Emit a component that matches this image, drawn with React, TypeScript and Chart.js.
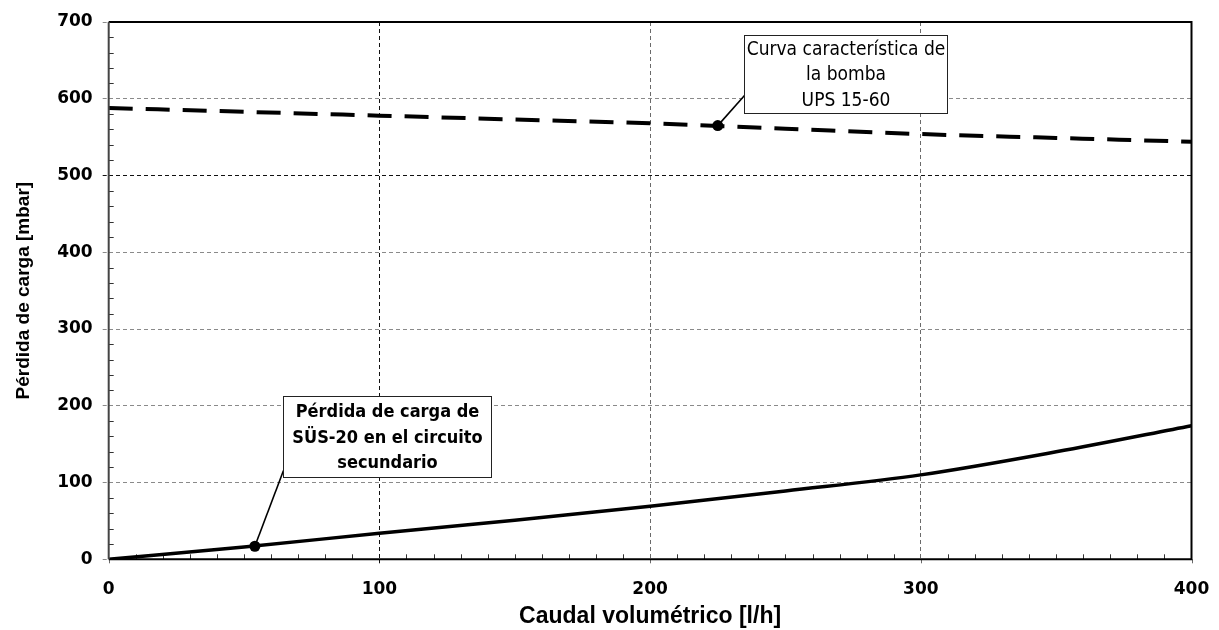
import React, { useEffect, useRef } from "react";
import { Chart, registerables } from "chart.js";

Chart.register(...registerables);

// ---- data ----
const flowRates = [0, 50, 100, 150, 200, 250, 300, 350, 400];
const pumpHead = [588, 583, 578, 573, 568, 561, 554, 549, 544];
const secondaryLoss = [0, 16, 34, 51, 69, 89, 110, 140, 174];
const xTickValues = [0, 100, 200, 300, 400];
const yTickValues = [0, 100, 200, 300, 400, 500, 600, 700];
const pumpMarker = [225, 565];
const lossMarker = [54, 17];
const pumpLabel = ["Curva característica de", "la bomba", "UPS 15-60"];
const lossLabel = ["Pérdida de carga de", "SÜS-20 en el circuito", "secundario"];
const xTitle = "Caudal volumétrico [l/h]";
const yTitle = "Pérdida de carga [mbar]";

// ---- annotation layout (box anchors in data units, sizes in px) ----
const annotations = [
  { marker: pumpMarker, lines: pumpLabel, boxX: 234.6, boxY: 683.5, w: 203, h: 78, attach: 60, bold: false, size: 19 },
  { marker: lossMarker, lines: lossLabel, boxX: 64.3, boxY: 212.9, w: 208, h: 81, attach: 74, bold: true, size: 18 },
];

const TICK_FONT = "'DejaVu Sans', sans-serif";
const TITLE_FONT = "'Liberation Sans', Arial, sans-serif";
const NOTE_FONT = "'Liberation Sans Narrow', 'DejaVu Sans Condensed', 'Liberation Sans', sans-serif";

const gridColorFor = (axis: string, v: number) => {
  if (axis === "y") return v === 500 ? "#111" : "#8a8a8a";
  return v === 100 ? "#111" : "#6a6a6a";
};

const decorPlugin = {
  id: "decor",
  beforeDatasetsDraw(chart: any) {
    const { ctx, chartArea: a, scales } = chart;
    const x = scales.x, y = scales.y;
    ctx.save();
    ctx.strokeStyle = "#333";
    ctx.lineWidth = 1;
    ctx.beginPath();
    for (let v = 10; v < 400; v += 10) {
      if (v % 100 === 0) continue;
      const px = Math.round(x.getPixelForValue(v)) + 0.5;
      ctx.moveTo(px, a.bottom);
      ctx.lineTo(px, a.bottom - 5);
    }
    for (let v = 20; v < 700; v += 20) {
      if (v % 100 === 0) continue;
      const py = Math.round(y.getPixelForValue(v)) + 0.5;
      ctx.moveTo(a.left, py);
      ctx.lineTo(a.left + 5, py);
    }
    ctx.stroke();
    // outward major ticks on x axis
    ctx.setLineDash([4, 3]);
    for (const v of xTickValues) {
      const px = Math.round(x.getPixelForValue(v)) + 0.5;
      ctx.strokeStyle = gridColorFor("x", v);
      ctx.beginPath();
      ctx.moveTo(px, a.bottom);
      ctx.lineTo(px, a.bottom + 6);
      ctx.stroke();
    }
    ctx.restore();
  },
  afterDatasetsDraw(chart: any) {
    const { ctx, chartArea: a, scales } = chart;
    const x = scales.x, y = scales.y;
    ctx.save();
    // frame
    ctx.lineWidth = 2;
    ctx.strokeStyle = "#000";
    ctx.beginPath();
    ctx.moveTo(a.left, a.top);
    ctx.lineTo(a.right, a.top);
    ctx.lineTo(a.right, a.bottom);
    ctx.lineTo(a.left, a.bottom);
    ctx.stroke();
    ctx.strokeStyle = "#444";
    ctx.beginPath();
    ctx.moveTo(a.left, a.top);
    ctx.lineTo(a.left, a.bottom);
    ctx.stroke();

    // annotations
    for (const an of annotations) {
      const mx = x.getPixelForValue(an.marker[0]);
      const my = y.getPixelForValue(an.marker[1]);
      const bx = Math.round(x.getPixelForValue(an.boxX)) + 0.5;
      const by = Math.round(y.getPixelForValue(an.boxY)) + 0.5;
      // leader
      ctx.strokeStyle = "#000";
      ctx.lineWidth = 1.6;
      ctx.beginPath();
      ctx.moveTo(mx, my);
      ctx.lineTo(bx, by + an.attach);
      ctx.stroke();
      // box
      ctx.fillStyle = "#fff";
      ctx.fillRect(bx, by, an.w, an.h);
      ctx.lineWidth = 1;
      ctx.strokeStyle = "#222";
      ctx.strokeRect(bx, by, an.w, an.h);
      // text
      ctx.fillStyle = "#000";
      ctx.font = `${an.bold ? "bold " : ""}${an.size}px ${NOTE_FONT}`;
      ctx.textAlign = "center";
      ctx.textBaseline = "middle";
      const lh = 25.5;
      const cy = by + an.h / 2 + 1;
      an.lines.forEach((t, i) => {
        ctx.fillText(t, bx + an.w / 2, cy + (i - (an.lines.length - 1) / 2) * lh);
      });
    }
    ctx.restore();
  },
};

export default function App() {
  const ref = useRef<HTMLCanvasElement>(null);
  useEffect(() => {
    const gridColor = (c: any) => gridColorFor(c.scale.axis, c.tick && c.tick.value);
    const chart = new Chart(ref.current!, {
      type: "line",
      data: {
        datasets: [
          {
            label: "pump",
            data: flowRates.map((f, i) => ({ x: f, y: pumpHead[i] })),
            borderColor: "#000",
            borderWidth: 4,
            borderDash: [24, 13],
            pointRadius: 0,
            cubicInterpolationMode: "monotone",
            fill: false,
          },
          {
            label: "loss",
            data: flowRates.map((f, i) => ({ x: f, y: secondaryLoss[i] })),
            borderColor: "#000",
            borderWidth: 3.5,
            pointRadius: 0,
            cubicInterpolationMode: "monotone",
            fill: false,
          },
          {
            label: "markers",
            data: [
              { x: pumpMarker[0], y: pumpMarker[1] },
              { x: lossMarker[0], y: lossMarker[1] },
            ],
            showLine: false,
            pointRadius: 5.5,
            pointBackgroundColor: "#000",
            pointBorderColor: "#000",
            pointBorderWidth: 0,
          },
        ],
      },
      options: {
        responsive: false,
        animation: false,
        devicePixelRatio: 1,
        layout: { padding: { top: 22, right: 27.5, left: 0, bottom: 0 } },
        plugins: { legend: { display: false }, tooltip: { enabled: false } },
        scales: {
          x: {
            type: "linear",
            min: 0,
            max: 400,
            afterBuildTicks: (s: any) => {
              s.ticks = xTickValues.map((v) => ({ value: v }));
            },
            afterFit: (s: any) => {
              s.height = 70.7;
            },
            ticks: {
              color: "#000",
              font: { family: TICK_FONT, weight: "bold", size: 17 },
              padding: 0,
              maxRotation: 0,
            },
            grid: { color: gridColor, lineWidth: 1, drawTicks: true, tickLength: 20, tickColor: "rgba(0,0,0,0)" },
            border: { display: false, dash: [4, 3] },
            title: {
              display: true,
              text: xTitle,
              color: "#000",
              font: { family: TITLE_FONT, weight: "bold", size: 23 },
              padding: { top: 0, bottom: 0 },
            },
          },
          y: {
            type: "linear",
            min: 0,
            max: 700,
            afterBuildTicks: (s: any) => {
              s.ticks = yTickValues.map((v) => ({ value: v }));
            },
            afterFit: (s: any) => {
              s.width = 108.7;
            },
            ticks: {
              color: "#000",
              font: { family: TICK_FONT, weight: "bold", size: 17 },
              padding: 10,
            },
            grid: { color: gridColor, lineWidth: 1, drawTicks: true, tickLength: 6, tickColor: gridColor, tickBorderDash: [4, 3] },
            border: { display: false, dash: [4, 3] },
            title: {
              display: true,
              text: yTitle,
              color: "#000",
              font: { family: TITLE_FONT, weight: "bold", size: 19 },
              padding: { top: 12, bottom: 0 },
            },
          },
        },
      },
      plugins: [decorPlugin],
    });
    return () => chart.destroy();
  }, []);
  return (
    <div style={{ position: "fixed", left: 0, top: 0, width: 1219, height: 630, background: "#fff" }}>
      <canvas ref={ref} width={1219} height={630} style={{ width: 1219, height: 630, display: "block" }} />
    </div>
  );
}
